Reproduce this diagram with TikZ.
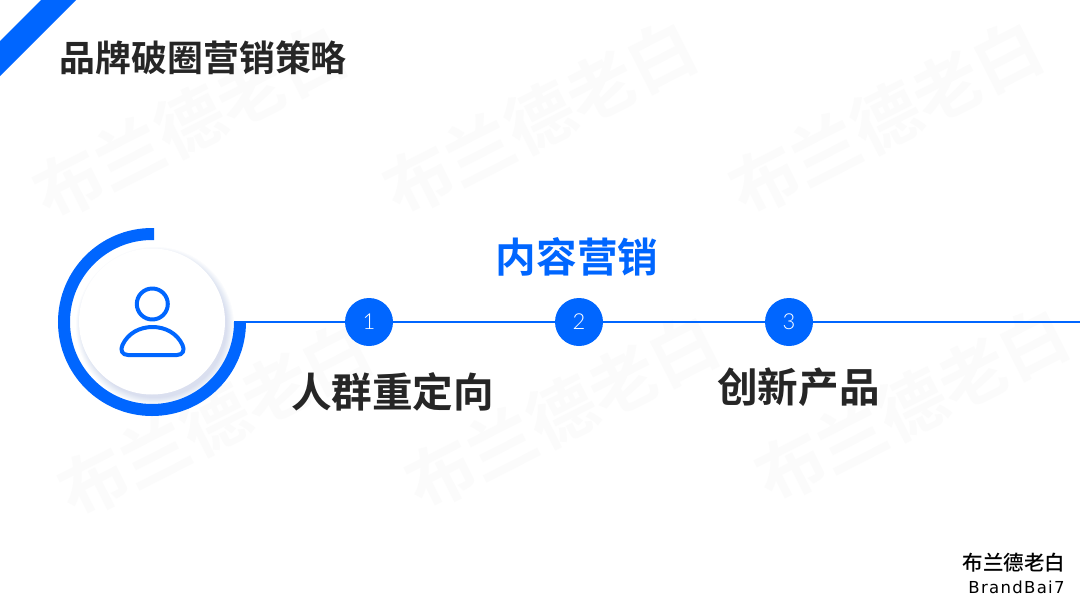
\documentclass[tikz,border=0pt]{standalone}
\usepackage{fontspec}
\setmainfont{Lato}
\newfontfamily\cjk{Noto Sans CJK SC Medium}
\newfontfamily\cjkb{Noto Sans CJK SC Bold}
\newfontfamily\lightnum{Lato Light}
\newfontfamily\brandlat[LetterSpace=8]{DejaVu Sans}
\usetikzlibrary{calc}
\definecolor{brandblue}{HTML}{0066FF}
\definecolor{inkdark}{HTML}{262626}
\definecolor{markgray}{HTML}{FBFBFB}
\definecolor{haloblue}{HTML}{3F63B5}
\tikzset{
  mark text/.style={text=markgray,font=\cjkb\fontsize{68}{68}\selectfont,rotate=27,inner sep=0pt},
  head text/.style={text=inkdark,font=\cjkb\fontsize{35.9}{37}\selectfont,inner sep=0pt},
  big text/.style={text=inkdark,font=\cjkb\fontsize{40.6}{41}\selectfont,inner sep=0pt},
  blue text/.style={text=brandblue,font=\cjkb\fontsize{40.6}{41}\selectfont,inner sep=0pt},
  dot node/.style={circle,fill=brandblue,text=white,minimum size=48pt,inner sep=0pt,font=\lightnum\fontsize{22}{22}\selectfont},
  rail/.style={brandblue,line width=2pt},
  icon line/.style={brandblue,line width=4pt,line join=round}
}
\begin{document}
\begin{tikzpicture}[x=1pt,y=-1pt]
\useasboundingbox (0,0) rectangle (1080,608);
\fill[white] (0,0) rectangle (1080,608);
% watermarks
\node[mark text] (w1) at (190,122) {布兰德老白};
\node[mark text] (w2) at (540,118) {布兰德老白};
\node[mark text] (w3) at (886,118) {布兰德老白};
\node[mark text] (w4) at (215,420) {布兰德老白};
\node[mark text] (w5) at (562,412) {布兰德老白};
\node[mark text] (w6) at (912,405) {布兰德老白};
% corner stripe
\fill[brandblue] (41,0) -- (76,0) -- (0,76) -- (0,41) -- cycle;
% title
\node[head text,anchor=west] (title) at (59.5,58) {品牌破圈营销策略};
% hub
\coordinate (hub) at (152,322);
\coordinate (railstart) at (246,322);
\coordinate (railend) at (1080,322);
\node[dot node] (n1) at (369,322) {1};
\node[dot node] (n2) at (579,322) {2};
\node[dot node] (n3) at (789,322) {3};
\draw[rail] (railstart) -- (n1);
\draw[rail] (n1) -- (n2);
\draw[rail] (n2) -- (n3);
\draw[rail] (n3) -- (railend);
% halo shadow
\foreach \r in {79,78,...,72}{
  \fill[haloblue,opacity=0.024] ($(hub)+(3,4)$) circle[radius=\r];
}
\fill[white] (152,321.5) circle[radius=73];
% ring
\draw[brandblue,line width=12pt] (154,234) -- (152,234) arc[start angle=-90,end angle=-360,radius=88] -- ++(0,-1);
% person icon
\draw[icon line] (152.3,304) circle[radius=15.5];
\draw[icon line] (128,355) .. controls (122,355) and (120,350) .. (122.5,345)
  .. controls (128,333) and (140,327) .. (152.5,327)
  .. controls (165,327) and (177,333) .. (182.5,345)
  .. controls (185,350) and (183,355) .. (177,355) -- cycle;
% labels
\node[blue text] (l2) at (577,257) {内容营销};
\node[big text] (l1) at (392.5,392) {人群重定向};
\node[big text] (l3) at (798.5,387) {创新产品};
% brand mark
\node[inner sep=0pt,text=black,font=\cjk\fontsize{20.5}{21}\selectfont] (b1) at (1014,563) {布兰德老白};
\node[inner sep=0pt,text=black,font=\brandlat\fontsize{16.5}{17}\selectfont] (b2) at (1016.5,587) {BrandBai7};
\end{tikzpicture}
\end{document}
